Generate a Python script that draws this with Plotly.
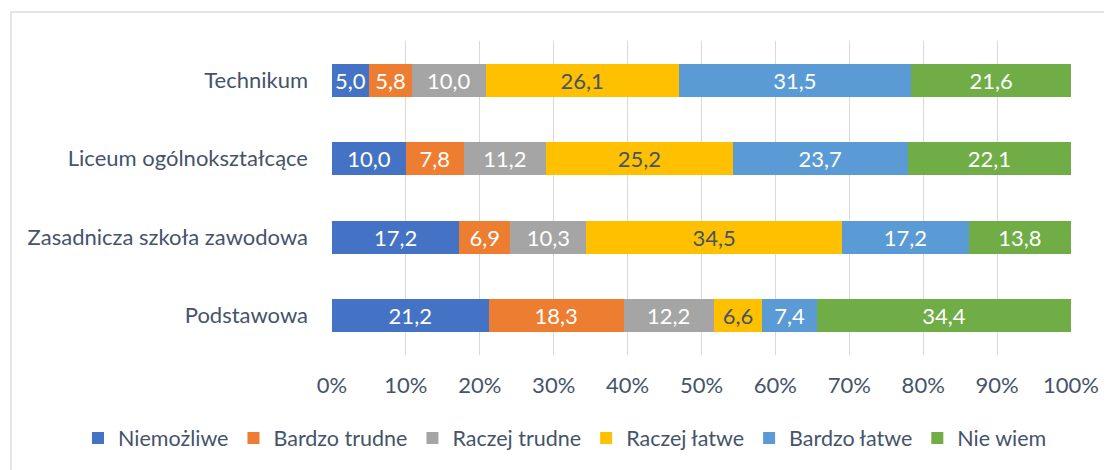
import plotly.graph_objects as go

categories = ["Podstawowa", "Zasadnicza szkoła zawodowa", "Liceum ogólnokształcące", "Technikum"]
series_names = ["Niemożliwe", "Bardzo trudne", "Raczej trudne", "Raczej łatwe", "Bardzo łatwe", "Nie wiem"]
niemozliwe = [21.2, 17.2, 10.0, 5.0]
bardzo_trudne = [18.3, 6.9, 7.8, 5.8]
raczej_trudne = [12.2, 10.3, 11.2, 10.0]
raczej_latwe = [6.6, 34.5, 25.2, 26.1]
bardzo_latwe = [7.4, 17.2, 23.7, 31.5]
nie_wiem = [34.4, 13.8, 22.1, 21.6]
tick_vals = [0, 10, 20, 30, 40, 50, 60, 70, 80, 90, 100]

series_values = [niemozliwe, bardzo_trudne, raczej_trudne, raczej_latwe, bardzo_latwe, nie_wiem]
colors = ["#4472C4", "#ED7D31", "#A5A5A5", "#FFC000", "#5B9BD5", "#70AD47"]
label_colors = ["white", "white", "white", "#44546A", "white", "white"]

FONT = "Lato"
TXT = "#44546A"
FS = 22

# page is offset by the 8px body margin; figure coords = page - 8
W, H = 1104, 462
L, R, T, B = 324, 41, 33, 115
PW = W - L - R
PH = H - T - B

fig = go.Figure()
for name, vals, c, lc in zip(series_names, series_values, colors, label_colors):
    fig.add_trace(go.Bar(
        y=categories, x=vals, name=name, orientation="h",
        marker=dict(color=c, line=dict(width=0)),
        text=[f"{v:.1f}".replace(".", ",") for v in vals],
        textposition="inside", insidetextanchor="middle", textangle=0,
        constraintext="none",
        textfont=dict(family=FONT, size=FS, color=lc),
        hoverinfo="skip",
    ))

fig.update_layout(
    barmode="stack", barnorm="percent", bargap=0.58,
    width=W, height=H,
    margin=dict(l=L, r=R, t=T, b=B),
    paper_bgcolor="white", plot_bgcolor="white",
    font=dict(family=FONT, size=FS, color=TXT),
    xaxis=dict(range=[0, 100], tickvals=tick_vals, ticktext=[f"{t}%" for t in tick_vals],
               showgrid=True, gridcolor="#D9D9D9", gridwidth=1, zeroline=False,
               showline=False, ticks="", ticklabelstandoff=15,
               tickfont=dict(family=FONT, size=FS, color=TXT)),
    yaxis=dict(showgrid=False, showline=False, ticks="", ticklabelstandoff=23,
               tickfont=dict(family=FONT, size=FS, color=TXT)),
    legend=dict(orientation="h", xref="paper", yref="paper",
                x=(70 - L) / PW, xanchor="left",
                y=(PH + T - 430) / PH, yanchor="middle",
                traceorder="normal",
                font=dict(family=FONT, size=21.5, color=TXT),
                itemwidth=30, tracegroupgap=0),
    showlegend=True,
    shapes=[dict(type="rect", xref="paper", yref="paper",
                 x0=(3 - L) / PW, x1=(W + 20 - L) / PW,
                 y0=-(B + 20) / PH, y1=(PH + T - 4) / PH,
                 line=dict(color="#D9DEE6", width=1.5), layer="below")],
)

fig.write_html("out.html")
